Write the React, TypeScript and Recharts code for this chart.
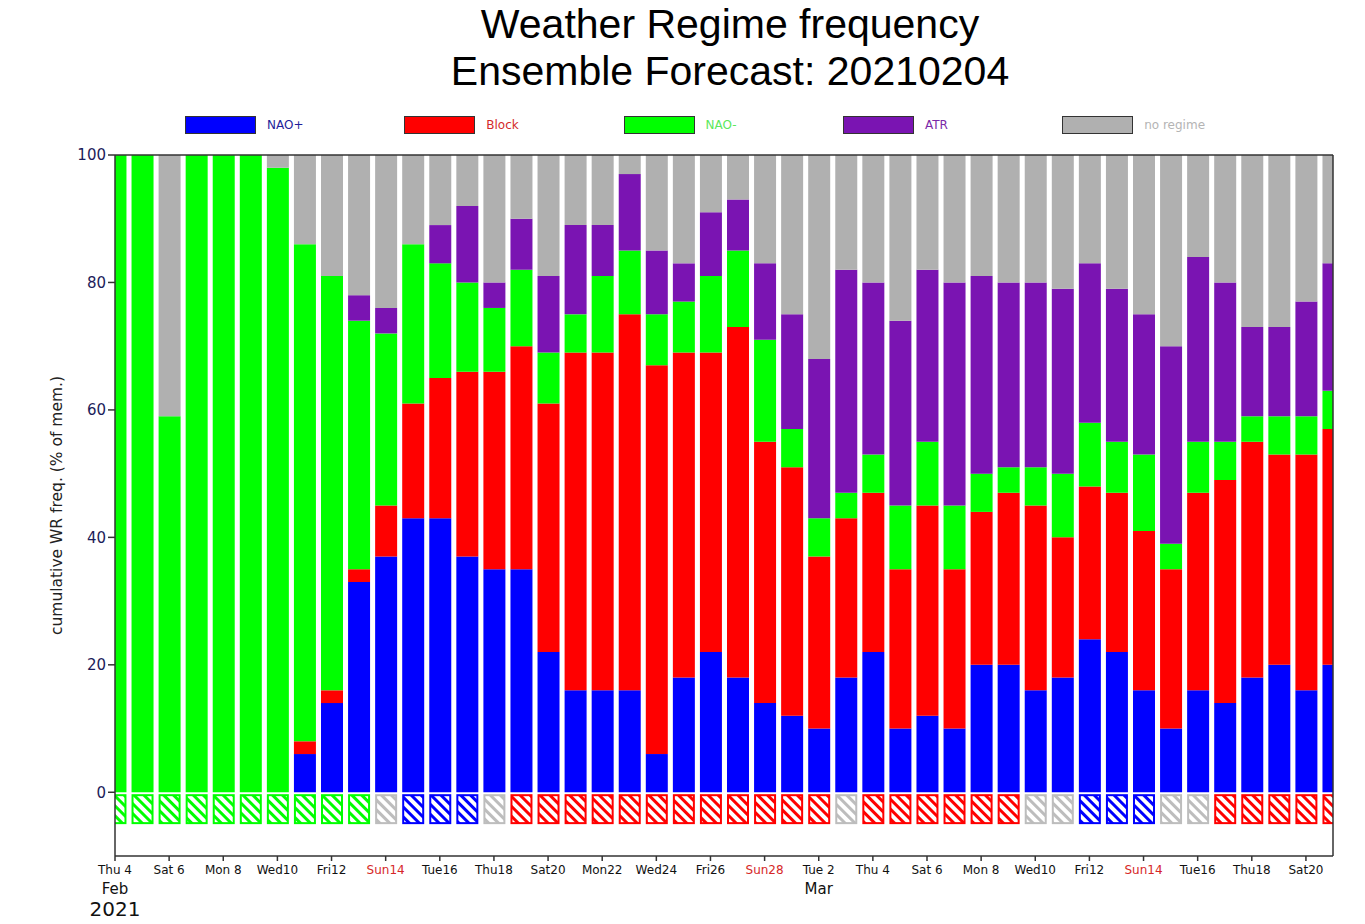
import { BarChart, Bar, XAxis, YAxis, ReferenceLine } from "recharts";

// day index 0 = Thu 4 Feb 2021 ... 45 = Sun 21 Mar 2021
const naoPlus = [0, 0, 0, 0, 0, 0, 0, 6, 14, 33, 37, 43, 43, 37, 35, 35, 22, 16, 16, 16, 6, 18, 22, 18, 14, 12, 10, 18, 22, 10, 12, 10, 20, 20, 16, 18, 24, 22, 16, 10, 16, 14, 18, 20, 16, 20];
const block = [0, 0, 0, 0, 0, 0, 0, 2, 2, 2, 8, 18, 22, 29, 31, 35, 39, 53, 53, 59, 61, 51, 47, 55, 41, 39, 27, 25, 25, 25, 33, 25, 24, 27, 29, 22, 24, 25, 25, 25, 31, 35, 37, 33, 37, 37];
const naoMinus = [100, 100, 59, 100, 100, 100, 98, 78, 65, 39, 27, 25, 18, 14, 10, 12, 8, 6, 12, 10, 8, 8, 12, 12, 16, 6, 6, 4, 6, 10, 10, 10, 6, 4, 6, 10, 10, 8, 12, 4, 8, 6, 4, 6, 6, 6];
const atr = [0, 0, 0, 0, 0, 0, 0, 0, 0, 4, 4, 0, 6, 12, 4, 8, 12, 14, 8, 12, 10, 6, 10, 8, 12, 18, 25, 35, 27, 29, 27, 35, 31, 29, 29, 29, 25, 24, 22, 31, 29, 25, 14, 14, 18, 20];
const noRegime = [0, 0, 41, 0, 0, 0, 2, 14, 19, 22, 24, 14, 11, 8, 20, 10, 19, 11, 11, 3, 15, 17, 9, 7, 17, 25, 32, 18, 20, 26, 18, 20, 19, 20, 20, 21, 17, 21, 25, 30, 16, 20, 27, 27, 23, 17];

// regime shown in the hatched box under each bar
const hatchRegime = [
  "NAO-", "NAO-", "NAO-", "NAO-", "NAO-", "NAO-", "NAO-", "NAO-", "NAO-", "NAO-",
  "none", "NAO+", "NAO+", "NAO+", "none",
  "Block", "Block", "Block", "Block", "Block", "Block", "Block", "Block", "Block", "Block", "Block", "Block",
  "none", "Block", "Block", "Block", "Block", "Block", "Block",
  "none", "none", "NAO+", "NAO+", "NAO+", "none", "none",
  "Block", "Block", "Block", "Block", "Block",
];

const tickIdx = [0, 2, 4, 6, 8, 10, 12, 14, 16, 18, 20, 22, 24, 26, 28, 30, 32, 34, 36, 38, 40, 42, 44];
const dayLabels = ["Thu 4", "Sat 6", "Mon 8", "Wed10", "Fri12", "Sun14", "Tue16", "Thu18", "Sat20", "Mon22", "Wed24", "Fri26", "Sun28", "Tue 2", "Thu 4", "Sat 6", "Mon 8", "Wed10", "Fri12", "Sun14", "Tue16", "Thu18", "Sat20"];
const monthLabels: Record<number, string> = { 0: "Feb", 26: "Mar" };
const yearLabels: Record<number, string> = { 0: "2021" };
const yTicks = [0, 20, 40, 60, 80, 100];

const regimes = [
  { key: "naoPlus", name: "NAO+", color: "#0000ff", text: "#1f1f9a" },
  { key: "block", name: "Block", color: "#ff0000", text: "#d42a2a" },
  { key: "naoMinus", name: "NAO-", color: "#00ff00", text: "#5be85b" },
  { key: "atr", name: "ATR", color: "#7a14b2", text: "#7a2aa8" },
  { key: "noRegime", name: "no regime", color: "#b0b0b0", text: "#b4b4b4" },
];

const hatchColors: Record<string, string> = {
  "NAO+": "#0000ff",
  Block: "#ff0000",
  "NAO-": "#00ff00",
  none: "#bdbdbd",
};
const hatchIds: Record<string, string> = {
  "NAO+": "hatch-naoplus",
  Block: "hatch-block",
  "NAO-": "hatch-naominus",
  none: "hatch-none",
};

const data = naoPlus.map((v, i) => ({
  idx: i,
  naoPlus: v,
  block: block[i],
  naoMinus: naoMinus[i],
  atr: atr[i],
  noRegime: noRegime[i],
  gap: -0.3,
  box: -4.7,
  hatch: hatchRegime[i],
}));

const FONT = "'DejaVu Sans', sans-serif";

function DayTick(props: any) {
  const { x, y, payload } = props;
  const i = tickIdx.indexOf(payload.value);
  const label = dayLabels[i] ?? "";
  const isSun = label.startsWith("Sun");
  return (
    <g>
      <text x={x} y={y + 11} textAnchor="middle" fontSize={12} fontFamily={FONT} fill={isSun ? "#d62728" : "#111"}>
        {label}
      </text>
      {monthLabels[payload.value] && (
        <text x={x} y={y + 31} textAnchor="middle" fontSize={15} fontFamily={FONT} fill="#111">
          {monthLabels[payload.value]}
        </text>
      )}
      {yearLabels[payload.value] && (
        <text x={x} y={y + 53} textAnchor="middle" fontSize={20} fontFamily={FONT} fill="#111">
          {yearLabels[payload.value]}
        </text>
      )}
    </g>
  );
}

function HatchBox(props: any) {
  const { x, y, width, height, payload } = props;
  const reg = payload.hatch;
  const top = Math.min(y, y + height);
  const h = Math.abs(height);
  return (
    <rect
      x={x + 1}
      y={top + 1}
      width={width - 2}
      height={h - 2}
      fill={`url(#${hatchIds[reg]})`}
      stroke={hatchColors[reg]}
      strokeWidth={2}
    />
  );
}

function YLabel(props: any) {
  const vb = props.viewBox || { x: 55, y: 155, width: 60, height: 701 };
  const cx = vb.x + 2;
  const cy = vb.y + vb.height / 2;
  return (
    <text
      x={cx}
      y={cy}
      transform={`rotate(-90 ${cx} ${cy})`}
      textAnchor="middle"
      dominantBaseline="central"
      fontSize={15.5}
      fontFamily={FONT}
      fill="#222"
    >
      cumulative WR freq. (% of mem.)
    </text>
  );
}

export default function App() {
  return (
    <div style={{ position: "absolute", left: 0, top: 0, width: 1365, height: 924, background: "#fff" }}>
      <svg width={0} height={0} style={{ position: "absolute" }}>
        <defs>
          {Object.keys(hatchIds).map((k) => (
            <pattern
              key={k}
              id={hatchIds[k]}
              patternUnits="userSpaceOnUse"
              width={7}
              height={7}
              patternTransform="rotate(-45)"
            >
              <rect width={7} height={7} fill="#fff" />
              <rect width={3} height={7} fill={hatchColors[k]} />
            </pattern>
          ))}
        </defs>
      </svg>

      <div
        style={{
          position: "absolute",
          top: 1,
          left: 0,
          width: 1460,
          textAlign: "center",
          fontFamily: "'Liberation Sans', Arial, sans-serif",
          fontSize: 41,
          lineHeight: "47px",
          color: "#000",
        }}
      >
        <div>Weather Regime frequency</div>
        <div>Ensemble Forecast: 20210204</div>
      </div>

      {regimes.map((r, i) => (
        <div key={r.key} style={{ position: "absolute", left: 185 + i * 219.3, top: 116 }}>
          <div
            style={{
              position: "absolute",
              left: 0,
              top: 0,
              width: 69,
              height: 16,
              background: r.color,
              border: "1px solid #333",
            }}
          />
          <div
            style={{
              position: "absolute",
              left: 82,
              top: 2,
              whiteSpace: "nowrap",
              fontFamily: FONT,
              fontSize: 12,
              color: r.text,
            }}
          >
            {r.name}
          </div>
        </div>
      ))}

      <BarChart
        width={1365}
        height={924}
        data={data}
        stackOffset="sign"
        barSize={22}
        margin={{ top: 155, right: 32, bottom: 38, left: 55 }}
        style={{ position: "absolute", left: 0, top: 0 }}
      >
        <XAxis
          dataKey="idx"
          type="number"
          domain={[0, 45]}
          ticks={tickIdx}
          interval={0}
          allowDataOverflow
          height={30}
          tickSize={5}
          tick={<DayTick />}
          tickLine={{ stroke: "#333", strokeWidth: 1.5 }}
          axisLine={{ stroke: "#333", strokeWidth: 1.5 }}
        />
        <YAxis
          type="number"
          domain={[-10, 100]}
          ticks={yTicks}
          interval={0}
          width={60}
          tickSize={7}
          tick={{ fill: "#1c1c5a", fontSize: 15, fontFamily: FONT }}
          tickLine={{ stroke: "#333", strokeWidth: 1.5 }}
          axisLine={{ stroke: "#333", strokeWidth: 1.5 }}
          label={{ content: <YLabel /> }}
        />
        {regimes.map((r) => (
          <Bar key={r.key} dataKey={r.key} stackId="a" fill={r.color} isAnimationActive={false} />
        ))}
        <Bar dataKey="gap" stackId="a" fill="none" isAnimationActive={false} />
        <Bar dataKey="box" stackId="a" shape={<HatchBox />} isAnimationActive={false} />
        <ReferenceLine y={100} stroke="#333" strokeWidth={1.5} />
        <ReferenceLine x={45} stroke="#333" strokeWidth={1.5} />
      </BarChart>
    </div>
  );
}
